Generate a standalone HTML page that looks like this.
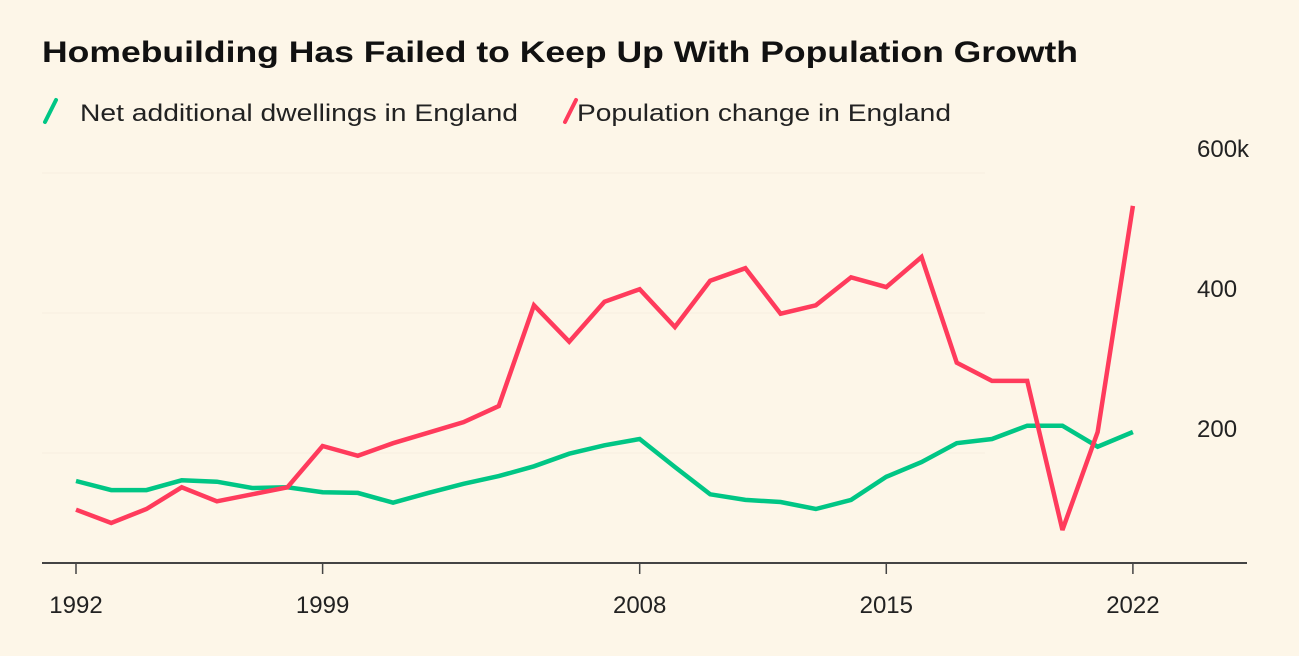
<!DOCTYPE html>
<html><head><meta charset="utf-8"><style>
html,body{margin:0;padding:0;background:#fdf6e8;}
svg{display:block;font-family:"Liberation Sans",sans-serif;}
</style></head><body>
<svg id="chart" width="1299" height="656" viewBox="0 0 1299 656">
<rect width="1299" height="656" fill="#fdf6e8"/>
<text x="42" y="62" font-size="30" font-weight="bold" fill="#111" textLength="1036" lengthAdjust="spacingAndGlyphs">Homebuilding Has Failed to Keep Up With Population Growth</text>
<g>
<line x1="45" y1="122" x2="56" y2="100" stroke="#00c685" stroke-width="4" stroke-linecap="round"/>
<text x="80" y="121" font-size="24" fill="#222" textLength="438" lengthAdjust="spacingAndGlyphs">Net additional dwellings in England</text>
</g>
<g>
<line x1="565" y1="122" x2="576" y2="100" stroke="#ff3b5c" stroke-width="4" stroke-linecap="round"/>
<text x="577" y="121" font-size="24" fill="#222" textLength="374" lengthAdjust="spacingAndGlyphs">Population change in England</text>
</g>
<g id="grid"></g>
<g id="axes"></g>
<g id="series"></g>
</svg>
<script>
const years = [1992,1993,1994,1995,1996,1997,1998,1999,2000,2001,2002,2003,2004,2005,2006,2007,2008,2009,2010,2011,2012,2013,2014,2015,2016,2017,2018,2019,2020,2021,2022];
const dwellings = [160,147,147,161,159,150,151,144,143,129,143,156,167,181,199,211,220,180,141,133,130,120,133,166,187,214,220,239,239,209,230];
const population = [119,100,120,151,131,141,151,210,196,214,229,244,267,411,359,416,434,380,446,464,399,411,451,437,480,329,303,303,90,230,553];
const yTicks = [200,400,600];
const yTickLabels = ["200","400","600k"];
const xTicks = [1992,1999,2008,2015,2022];

const NS = "http://www.w3.org/2000/svg";
const x = yr => 76 + (yr - 1992) * 35.23;
const y = v => 593 - v * 0.7;
function mk(tag, attrs, parent){const e=document.createElementNS(NS,tag);for(const k in attrs)e.setAttribute(k,attrs[k]);parent.appendChild(e);return e;}
const grid=document.getElementById('grid'), axes=document.getElementById('axes'), series=document.getElementById('series');

yTicks.forEach((t,i)=>{
  const gl = mk('line',{x1:42,x2:985,y1:y(t),y2:y(t),stroke:'#f9f1e2','stroke-width':1.5},grid);
  
  
  const lb = mk('text',{x:1197,y:y(t)-16,'font-size':24,fill:'#222'},axes);
  lb.textContent = yTickLabels[i];
  
  
});
const base = mk('line',{x1:42,x2:1247,y1:563,y2:563,stroke:'#444','stroke-width':2},axes);


xTicks.forEach(t=>{
  const tk = mk('line',{x1:x(t),x2:x(t),y1:563,y2:574,stroke:'#444','stroke-width':1.5},axes);
  
  
  const lb = mk('text',{x:x(t),y:613,'font-size':24,fill:'#222','text-anchor':'middle'},axes);
  lb.textContent = t;
  
  
});
function line(vals,color,name){
  const p = mk('polyline',{points:vals.map((v,i)=>x(years[i])+','+y(v)).join(' '),fill:'none',stroke:color,'stroke-width':4.5,'stroke-linejoin':'miter','stroke-miterlimit':3},series);
  
  
}
line(dwellings,'#00c685','dwellings-line');
line(population,'#ff3b5c','population-line');
</script>
</body></html>
